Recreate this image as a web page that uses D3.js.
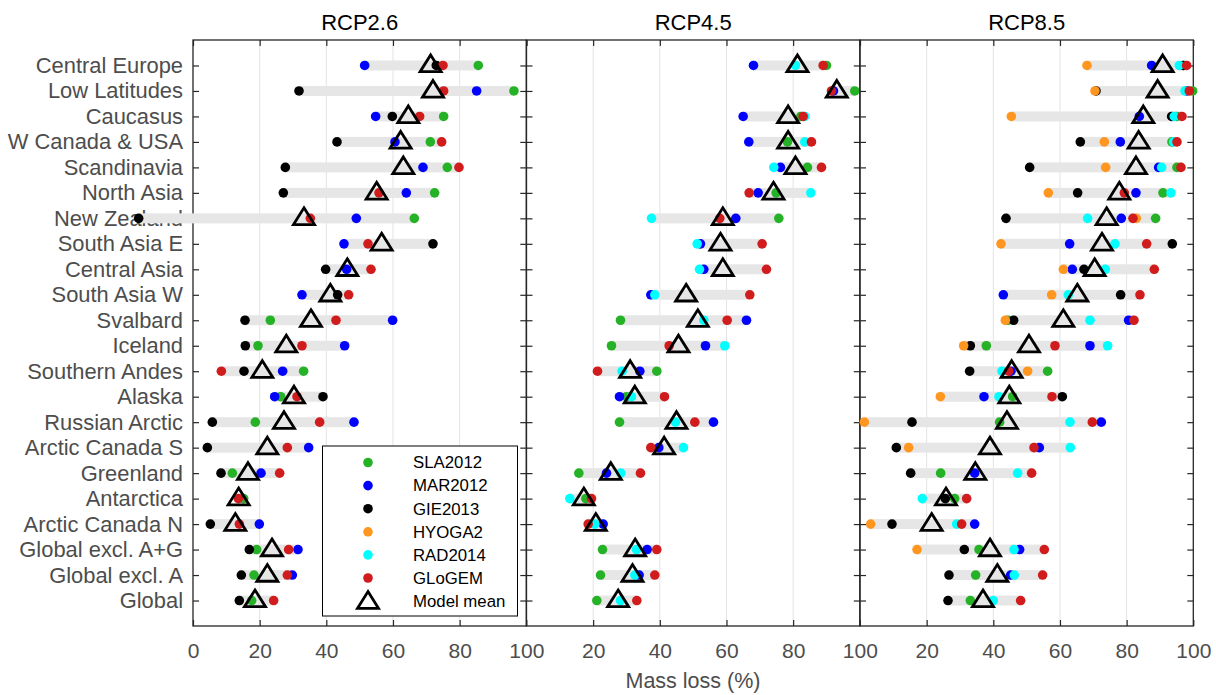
<!DOCTYPE html>
<html>
<head>
<meta charset="utf-8">
<script src="https://cdn.jsdelivr.net/npm/d3@7"></script>
<style>
  body { margin: 0; background: #fff; }
  text { font-family: 'Liberation Sans', Arial, sans-serif; }
</style>
</head>
<body>
<svg id="chart" width="1216" height="695"></svg>
<script>
const regions = ['Central Europe', 'Low Latitudes', 'Caucasus', 'W Canada & USA', 'Scandinavia',
  'North Asia', 'New Zealand', 'South Asia E', 'Central Asia', 'South Asia W', 'Svalbard',
  'Iceland', 'Southern Andes', 'Alaska', 'Russian Arctic', 'Arctic Canada S', 'Greenland',
  'Antarctica', 'Arctic Canada N', 'Global excl. A+G', 'Global excl. A', 'Global']

const scenarios = ['RCP2.6', 'RCP4.5', 'RCP8.5']
const models = ['SLA2012', 'MAR2012', 'GIE2013', 'HYOGA2', 'RAD2014', 'GLoGEM']
const modelColors = ['#26b226', '#0000ff', '#000000', '#ff9620', '#00ffff', '#d01c1c']
const xTicks = [0, 20, 40, 60, 80, 100]

const _ = null

// RCP2.6
const sla26 = [85.6, 96.3, 75.2, 71.2, 76.3, 72.5, 66.4, _, _, _, 23.2, 19.5, 33.2, 26.3, 18.7, _, 11.8, 15.2, _, 19.1, 18.3, 17.6]
const mar26 = [51.5, 85.1, 54.8, 60.6, 69, 64, 49, 45.3, 46.1, 32.7, 59.9, 45.5, 26.9, 24.5, 48.3, 34.7, 20.4, _, 19.9, 31.5, 29.8, _]
const gie26 = [73, 31.8, 59.8, 43.2, 27.7, 27.1, -16.3, 72, 39.8, 43.4, 15.6, 15.7, 15.3, 39, 5.8, 4.3, 8.4, _, 5.2, 16.9, 14.5, 13.9]
const hyoga26 = Array(22).fill(_)
const rad26 = Array(22).fill(_)
const glo26 = [75, 75.2, 68, 74.6, 79.8, 55.8, 35.2, 52.5, 53.4, 46.7, 42.9, 32.7, 8.5, 31.2, 38, 28.3, 26, 13.6, 13.9, 28.7, 28.3, 24.2]
const mean26 = [71.3, 72, 64.6, 62.3, 63.1, 55.1, 33.3, 56.6, 46.3, 41.2, 35.4, 28, 20.8, 30.3, 27.3, 22.3, 16.5, 13.7, 12.7, 23.7, 22.3, 18.6]

// RCP4.5
const sla45 = [90, 98.5, 82.3, 78.3, 84.3, 74.9, 75.7, _, _, _, 28.2, 25.5, 39.1, 30, 27.9, _, 15.7, 17.8, _, 22.8, 22.2, 21.1]
const mar45 = [68.1, 92.1, 65, 66.7, 76.2, 69.5, 62.8, 52.2, 53.2, 37.3, 66, 53.7, 34, 27.9, 56.1, 39.7, 24, _, 23, 36.2, 33.8, _]
const gie45 = Array(22).fill(_)
const hyoga45 = Array(22).fill(_)
const rad45 = [80.7, _, 83.5, 83.5, 74.2, 85.3, 37.5, 51.2, 51.9, 38.5, 53.2, 59.5, 28.7, 31.5, 44.7, 47.1, 28.3, 13, 20.5, 33, 32.5, 28.2]
const glo45 = [89, 91.5, 83, 85.5, 88.5, 66.8, 58, 70.7, 72, 67, 60.2, 42.8, 21.3, 41.4, 50.5, 37.3, 34.2, 19.5, 18.5, 39.1, 38.5, 33.1]
const mean45 = [81.3, 93.1, 78.5, 78.5, 80.7, 74.1, 58.9, 58.2, 58.9, 47.9, 51.4, 45.6, 31.1, 32.5, 45, 41.3, 25.3, 17.2, 20.8, 32.6, 31.8, 27.5]

// RCP8.5
const sla85 = [97, 99.8, 95, 93.6, 95.1, 90.9, 88.7, _, _, _, 44.3, 37.9, 56.3, 45.8, 41.9, _, 24.2, 28.4, _, 35.7, 34.7, 33.1]
const mar85 = [87.5, 98, 83.8, 78.1, 89.6, 82.8, 78.4, 62.9, 63.7, 43, 80.6, 69, 45.3, 37.2, 72.4, 53.8, 34.4, _, 34.4, 47.9, 45.2, _]
const gie85 = [97, 70.8, 93.5, 66.1, 50.9, 65.3, 43.8, 93.7, 67.2, 78.2, 46.1, 33.1, 32.9, 60.7, 15.6, 10.9, 15.2, 25.6, 9.6, 31.3, 26.7, 26.4]
const hyoga85 = [68.1, 70.5, 45.4, 73.3, 73.7, 56.5, 82.9, 42.3, 61, 57.5, 43.6, 31.1, 50.3, 24.1, 1.3, 14.6, _, _, 3.2, 17.1, _, _]
const rad85 = [95.8, 97.5, 94.3, 94.1, 90.5, 93.3, 68.3, 76.5, 73.6, 62.5, 69, 74.3, 42.6, 41.7, 63, 63.1, 47.3, 18.7, 29, 46.2, 46.3, 40]
const glo85 = [98, 98.8, 96.6, 95.1, 96.3, 79.3, 81.9, 86, 88.3, 84, 82.2, 58.5, 44.6, 57.6, 69.7, 52.2, 51.5, 32, 30.5, 55.3, 54.8, 48.2]
const mean85 = [90.8, 89.3, 85, 83.6, 82.8, 77.8, 74, 72.6, 70.4, 65.2, 61, 50.7, 45.5, 44.8, 44.1, 39, 34.6, 25.8, 21.5, 39, 41.2, 36.9]

const panelSeries = [
  [sla26, mar26, gie26, hyoga26, rad26, glo26],
  [sla45, mar45, gie45, hyoga45, rad45, glo45],
  [sla85, mar85, gie85, hyoga85, rad85, glo85]
]
const panelMeans = [mean26, mean45, mean85]

const svg = d3.select('#chart')
const plotTop = 40
const plotBottom = 626
const panelLeft = [193, 526.5, 860]
const panelWidth = 333.3
const axisColor = '#262626'
const labelColor = '#4d4d4d'

const y = d3.scalePoint().domain(regions).range([plotTop, plotBottom]).padding(1)
const triangle = 'M0,-10.5L10.5,6.2L-10.5,6.2Z'

scenarios.forEach(function (name, p) {
  const x0 = panelLeft[p]
  const x = d3.scaleLinear().domain([0, 100]).range([x0, x0 + panelWidth])
  const g = svg.append('g')

  g.selectAll('line.grid')
    .data([20, 40, 60, 80])
    .enter()
    .append('line')
    .attr('x1', d => x(d)).attr('x2', d => x(d))
    .attr('y1', plotTop).attr('y2', plotBottom)
    .attr('stroke', '#e3e3e3')
    .attr('stroke-width', 1)

  // axes, ticks pointing inward
  const bottomAxis = g.append('g')
    .attr('transform', 'translate(0,' + plotBottom + ')')
    .call(d3.axisBottom(x).tickValues(p === 0 ? xTicks : xTicks.slice(1)).tickSize(-6).tickPadding(17))
  bottomAxis.selectAll('text').attr('fill', labelColor).style('font-size', '21px')

  g.append('g')
    .attr('transform', 'translate(0,' + plotTop + ')')
    .call(d3.axisTop(x).tickValues(xTicks).tickSize(-6).tickFormat(''))

  const leftAxis = g.append('g')
    .attr('transform', 'translate(' + x0 + ',0)')
    .call(d3.axisLeft(y).tickSize(-6).tickPadding(10).tickFormat(p === 0 ? d => d : ''))
  leftAxis.selectAll('text').attr('fill', labelColor).style('font-size', '21.9px')

  g.append('g')
    .attr('transform', 'translate(' + (x0 + panelWidth) + ',0)')
    .call(d3.axisRight(y).tickSize(-6).tickFormat(''))

  g.selectAll('.domain').remove()
  g.selectAll('.tick line').attr('stroke', axisColor).attr('stroke-width', 1.2)

  g.append('rect')
    .attr('x', x0).attr('y', plotTop)
    .attr('width', panelWidth).attr('height', plotBottom - plotTop)
    .attr('fill', 'none')
    .attr('stroke', axisColor)
    .attr('stroke-width', 1.3)

  g.append('text')
    .attr('x', x(50)).attr('y', 30)
    .attr('text-anchor', 'middle')
    .style('font-size', '22px')
    .attr('fill', '#000')
    .text(name)

  const series = panelSeries[p]
  const rows = regions.map(function (r, i) {
    const vals = series.map(s => s[i]).filter(v => v !== null)
    return { region: r, min: d3.min(vals), max: d3.max(vals) }
  })

  g.selectAll('rect.range')
    .data(rows)
    .enter()
    .append('rect')
    .attr('x', d => x(d.min))
    .attr('y', d => y(d.region) - 5)
    .attr('width', d => x(d.max) - x(d.min))
    .attr('height', 10)
    .attr('fill', '#e6e6e6')

  series.forEach(function (s, m) {
    g.selectAll('circle.m' + m)
      .data(s.map((v, i) => ({ region: regions[i], value: v })).filter(d => d.value !== null))
      .enter()
      .append('circle')
      .attr('cx', d => x(d.value))
      .attr('cy', d => y(d.region))
      .attr('r', 4.8)
      .attr('fill', modelColors[m])
  })

  g.selectAll('path.mean')
    .data(panelMeans[p])
    .enter()
    .append('path')
    .attr('d', triangle)
    .attr('transform', (d, i) => 'translate(' + x(d) + ',' + y(regions[i]) + ')')
    .attr('fill', 'none')
    .attr('stroke', '#000')
    .attr('stroke-width', 2.8)
    .attr('stroke-linejoin', 'miter')
})

// legend in the first panel
const legend = svg.append('g')
legend.append('rect')
  .attr('x', 322.5).attr('y', 446)
  .attr('width', 195).attr('height', 170)
  .attr('fill', '#fff')
  .attr('stroke', '#000')
  .attr('stroke-width', 1)

const legendItems = models.concat(['Model mean'])
legendItems.forEach(function (label, i) {
  const ly = 462.5 + i * 23.1
  if (i < models.length) {
    legend.append('circle').attr('cx', 368).attr('cy', ly).attr('r', 4.8).attr('fill', modelColors[i])
  } else {
    legend.append('path').attr('d', triangle)
      .attr('transform', 'translate(368,' + (ly + 1) + ')')
      .attr('fill', 'none').attr('stroke', '#000').attr('stroke-width', 2.8)
  }
  legend.append('text')
    .attr('x', 413).attr('y', ly)
    .attr('dy', '0.35em')
    .style('font-size', '16.8px')
    .attr('fill', '#000')
    .text(label)
})

svg.append('text')
  .attr('x', 693).attr('y', 688)
  .attr('text-anchor', 'middle')
  .style('font-size', '21.5px')
  .attr('fill', labelColor)
  .text('Mass loss (%)')
</script>
</body>
</html>
